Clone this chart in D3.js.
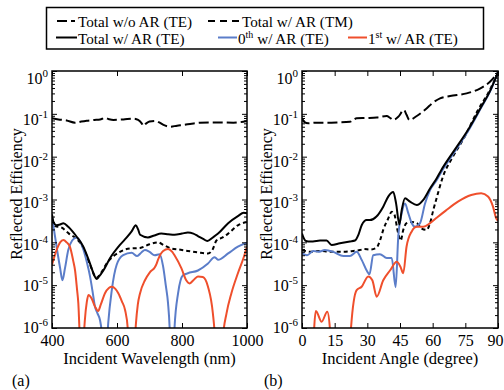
<!DOCTYPE html>
<html>
<head>
<meta charset="utf-8">
<script src="https://cdn.jsdelivr.net/npm/d3@7"></script>
<style>
  body { margin: 0; background: #fff; }
  svg { display: block; }
  svg text { font-family: 'Liberation Serif', 'DejaVu Serif', serif; }
</style>
</head>
<body>
<svg id="chart" width="504" height="390"></svg>
<script>
// ---- panel (a): efficiency vs incident wavelength (nm) ----
const aNoAR = [[400,0.079],[420,0.074],[445,0.07],[471,0.062],[490,0.066],[507,0.069],[530,0.072],[548,0.074],[563,0.08],[575,0.075],[589,0.072],[620,0.074],[650,0.077],[665,0.072],[676,0.06],[681,0.052],[690,0.06],[700,0.066],[717,0.068],[730,0.063],[743,0.055],[763,0.05],[785,0.053],[804,0.055],[830,0.059],[855,0.062],[906,0.063],[958,0.062],[1000,0.068]];
const aTotalTE = [[400,4.5e-4],[405,2.9e-4],[414,2.5e-4],[425,2.6e-4],[435,2.8e-4],[450,2.3e-4],[463,1.8e-4],[476,1.35e-4],[496,8e-5],[517,3.2e-5],[530,1.7e-5],[537,1.4e-5],[545,1.6e-5],[558,2.2e-5],[578,4.2e-5],[609,8.7e-5],[630,1.3e-4],[645,1.8e-4],[658,2.5e-4],[665,2e-4],[671,1.5e-4],[695,1.3e-4],[715,1.45e-4],[736,1.6e-4],[757,1.55e-4],[777,1.5e-4],[800,1.6e-4],[818,1.7e-4],[835,1.6e-4],[849,1.4e-4],[865,1.2e-4],[878,1.07e-4],[895,1.3e-4],[911,1.6e-4],[942,2.8e-4],[972,4.1e-4],[990,4.9e-4],[1000,4.8e-4]];
const aTotalTM = [[400,3.5e-4],[410,2.4e-4],[430,2.2e-4],[452,1.6e-4],[476,1.2e-4],[496,7.5e-5],[517,3e-5],[537,1.5e-5],[550,1.9e-5],[568,3.2e-5],[590,4.8e-5],[609,6e-5],[640,7.2e-5],[671,7.4e-5],[700,9e-5],[726,1e-4],[745,8.5e-5],[767,7.2e-5],[790,6.8e-5],[818,6.3e-5],[850,5.8e-5],[880,5.5e-5],[895,7e-5],[906,1.1e-4],[925,1.3e-4],[942,1.6e-4],[972,2.5e-4],[1000,3e-4]];
const aZeroTE = [[400,4e-4],[406,2e-4],[414,8e-5],[425,2.5e-5],[432,1.3e-5],[440,2.5e-5],[450,6.6e-5],[462,1.1e-4],[475,1.3e-4],[485,1.1e-4],[496,7e-5],[507,3.5e-5],[517,1.6e-5],[525,7e-6],[532,3.2e-6],[540,2.2e-6],[548,1.5e-6],[553,8e-7],[558,2e-7],[566,2e-7],[573,1.3e-6],[584,7.7e-6],[599,3e-5],[619,5e-5],[645,5.7e-5],[662,4.8e-5],[675,5.8e-5],[686,6.6e-5],[700,6e-5],[716,5e-5],[731,5.3e-5],[742,2.7e-5],[750,1e-5],[757,3.8e-6],[762,1e-6],[766,1e-7],[772,1e-7],[777,1e-6],[788,6.5e-6],[803,1.7e-5],[818,1.9e-5],[849,2.2e-5],[880,3.2e-5],[900,4.5e-5],[906,4.2e-5],[911,3.9e-5],[942,5.5e-5],[972,7.9e-5],[1000,9.8e-5]];
const aFirstTE = [[400,3e-5],[414,6.6e-5],[425,1e-4],[435,1.13e-4],[445,1e-4],[455,7.9e-5],[465,3.8e-5],[471,2.2e-5],[477,8e-6],[481,3.8e-6],[486,5e-7],[492,1e-7],[497,5e-7],[501,1.5e-6],[507,4e-6],[512,5.9e-6],[522,4.9e-6],[532,3.2e-6],[542,2.5e-6],[550,3.5e-6],[563,6.5e-6],[575,8.6e-6],[584,9.2e-6],[595,8.2e-6],[604,6.5e-6],[615,4.2e-6],[625,2.6e-6],[633,1e-6],[640,1e-7],[650,1e-7],[658,1.2e-6],[664,3.5e-6],[671,6.5e-6],[686,1.3e-5],[701,2e-5],[716,2.6e-5],[722,3.2e-5],[726,3.9e-5],[742,6.3e-5],[757,7e-5],[770,6e-5],[777,5e-5],[798,2.5e-5],[813,1.3e-5],[823,1.1e-5],[835,1.3e-5],[849,1.6e-5],[864,1.55e-5],[880,9.2e-6],[895,2.2e-6],[902,5e-7],[906,1e-7],[922,1e-7],[926,6e-7],[937,2.2e-6],[952,6.5e-6],[972,1.9e-5],[990,4.5e-5],[1000,8e-5]];
const aTicks = [400, 600, 800, 1000];

// ---- panel (b): efficiency vs incident angle (degree) ----
const bNoAR = [[0,0.08],[1,0.065],[2.9,0.06],[6,0.062],[9.8,0.062],[16,0.063],[22,0.065],[23.5,0.072],[25.1,0.079],[30,0.08],[34.3,0.082],[38.9,0.089],[40.5,0.08],[41.9,0.072],[44.2,0.085],[46.8,0.123],[48,0.095],[49.3,0.072],[52.7,0.089],[57.2,0.134],[60,0.18],[63.4,0.23],[68,0.26],[75.6,0.3],[81.7,0.39],[86.3,0.56],[90,0.92]];
const bTotalTE = [[0,1.6e-4],[1.5,1.1e-4],[2.9,1.05e-4],[5,1.05e-4],[8.3,1.1e-4],[11.3,1.1e-4],[13.6,8.7e-5],[17.4,9.5e-5],[22,1.05e-4],[24.3,1.1e-4],[25.9,1.5e-4],[27.4,2.5e-4],[29.7,3.3e-4],[31.2,3.3e-4],[34.2,4e-4],[37.3,6.8e-4],[39.6,1.17e-3],[41.9,1.5e-3],[43.2,8.1e-4],[44.7,2.6e-4],[45.8,5.7e-4],[47.3,1.07e-3],[49.6,8.9e-4],[52.7,7.4e-4],[55.7,9.8e-4],[58.8,1.8e-3],[61.8,3.1e-3],[64,4.9e-3],[70.1,0.0144],[76.2,0.042],[82.3,0.147],[86.2,0.33],[90,0.95]];
const bTotalTM = [[0,6.6e-5],[3.7,6e-5],[8.3,6.3e-5],[12.9,6e-5],[19,6e-5],[23.6,6.3e-5],[26.6,6.6e-5],[28.5,7e-5],[31.2,6.8e-5],[34.2,7.5e-5],[35.8,1.1e-4],[37.3,1.95e-4],[39.6,3.6e-4],[41.2,5.2e-4],[42.2,4.8e-4],[44.2,1.6e-4],[45.3,1.1e-4],[46.5,1.95e-4],[48,2.8e-4],[50.4,3e-4],[52.7,2.8e-4],[55,2.1e-4],[57.2,1.95e-4],[58.8,2.8e-4],[60.3,5.7e-4],[61.8,1.07e-3],[64.7,3.4e-3],[69.3,0.01],[74.7,0.029],[80.8,0.123],[85.4,0.3],[90,0.92]];
const bZeroTE = [[0,5.5e-5],[2.3,5e-5],[5.2,6.3e-5],[7.5,6e-5],[10.5,6.6e-5],[14.4,6e-5],[19,4.8e-5],[22,4.8e-5],[25.1,6e-5],[27.4,3.9e-5],[29.7,2.2e-5],[31,1.8e-5],[32.7,5e-5],[35.8,5.3e-5],[38.9,4.3e-5],[41.2,4.3e-5],[43,9e-6],[44.2,1.35e-4],[45.8,4.8e-4],[47.3,8.1e-4],[48.8,4.8e-4],[50.4,2.8e-4],[51.9,2.3e-4],[54.2,2.8e-4],[56.5,8.1e-4],[58.8,1.65e-3],[61.8,2.8e-3],[64,4.4e-3],[70.1,0.013],[76.2,0.039],[82.3,0.14],[86.2,0.32],[90,0.94]];
const bFirstTE = [[5,1e-7],[5.6,1e-6],[6.4,2.5e-6],[9,1.4e-6],[11.6,2.4e-6],[12.8,1e-6],[13.6,1e-7],[21.5,1e-7],[22.5,1e-6],[25.1,7.7e-6],[27.4,9.2e-6],[30.4,1.6e-5],[32.3,1.3e-5],[34.3,5.4e-6],[37.3,1.3e-5],[40.4,2.2e-5],[43.5,3.5e-5],[45.2,2.7e-5],[46.5,1.9e-5],[48,7.9e-5],[50.4,1.8e-4],[52.7,2.3e-4],[55.7,2.3e-4],[58.8,2.8e-4],[62,3.8e-4],[66,5.5e-4],[71.6,8.9e-4],[77.7,1.27e-3],[82.3,1.4e-3],[85.4,1.17e-3],[87.7,6.8e-4],[89.2,3.6e-4],[90,3.2e-4]];
const bTicks = [0, 15, 30, 45, 60, 75, 90];

const yDecades = [1, 1e-1, 1e-2, 1e-3, 1e-4, 1e-5, 1e-6];
const yExps = ['0', '-1', '-2', '-3', '-4', '-5', '-6'];

const BLUE = '#5b7dc9';
const RED = '#ef4f2c';
const SERIF = 'Liberation Serif, DejaVu Serif, serif';

const svg = d3.select('#chart').attr('font-family', SERIF);
const plotTop = 71, plotBottom = 328;

// minor log ticks 2..9 per decade
const yMinor = [];
for (let k = -6; k < 0; k++) for (let m = 2; m <= 9; m++) yMinor.push(m * Math.pow(10, k));

function drawPanel(p){
  const x = d3.scaleLinear().domain(p.domain).range([p.left, p.right]);
  const y = d3.scaleLog().domain([1e-6, 1]).range([plotBottom, plotTop]);
  const g = svg.append('g');

  g.append('clipPath').attr('id', p.id + '-clip')
    .append('rect').attr('x', p.left).attr('y', plotTop)
    .attr('width', p.right - p.left).attr('height', plotBottom - plotTop);

  const line = d3.line().x(d => x(d[0])).y(d => y(d[1])).curve(d3.curveMonotoneX);
  const plot = g.append('g').attr('clip-path', `url(#${p.id}-clip)`);
  p.series.forEach(s => {
    plot.append('path').datum(s.data)
      .attr('d', line)
      .attr('fill', 'none')
      .attr('stroke', s.color)
      .attr('stroke-width', 2)
      .attr('stroke-dasharray', s.dash || null)
      .attr('stroke-linejoin', 'round');
  });

  // x axes (ticks inward)
  const xb = g.append('g').attr('transform', `translate(0,${plotBottom})`)
    .call(d3.axisBottom(x).tickValues(p.ticks).tickSize(-5).tickPadding(7).tickFormat(d3.format('d')));
  xb.selectAll('text').attr('font-size', 16).attr('fill', '#000');
  // keep the right-most label inside the picture
  if (p.right > 490) xb.selectAll('.tick:last-of-type text').attr('dx', -3);
  g.append('g').attr('transform', `translate(0,${plotTop})`)
    .call(d3.axisTop(x).tickValues(p.ticks).tickSize(-5).tickFormat(''));

  // y axes: left with labels, right without
  const yl = g.append('g').attr('transform', `translate(${p.left},0)`)
    .call(d3.axisLeft(y).tickValues(yDecades).tickSize(-5).tickPadding(4).tickFormat(''));
  yl.selectAll('.tick text').each(function(d, i){
    const t = d3.select(this).attr('font-size', 16).attr('fill', '#000')
      .attr('dy', 12 - 1.3 * i);
    t.append('tspan').text('10');
    t.append('tspan').attr('font-size', 11).attr('dy', -7).text(yExps[i]);
  });
  g.append('g').attr('transform', `translate(${p.left},0)`)
    .call(d3.axisLeft(y).tickValues(yMinor).tickSize(-3).tickFormat(''));
  g.append('g').attr('transform', `translate(${p.right},0)`)
    .call(d3.axisRight(y).tickValues(yDecades).tickSize(-5).tickFormat(''));
  g.append('g').attr('transform', `translate(${p.right},0)`)
    .call(d3.axisRight(y).tickValues(yMinor).tickSize(-3).tickFormat(''));
  g.selectAll('.domain').remove();
  g.selectAll('g').attr('font-family', SERIF);

  g.append('rect').attr('x', p.left).attr('y', plotTop)
    .attr('width', p.right - p.left).attr('height', plotBottom - plotTop)
    .attr('fill', 'none').attr('stroke', '#000').attr('stroke-width', 1.5);

  g.append('text').attr('x', (p.left + p.right) / 2).attr('y', 364)
    .attr('text-anchor', 'middle').attr('font-size', 16.5).text(p.xTitle);
  g.append('text').attr('transform', `translate(${p.yTitleX},194) rotate(-90)`)
    .attr('text-anchor', 'middle').attr('font-size', 16).text('Reflected Efficiency');
  g.append('text').attr('x', p.tagX).attr('y', 386).attr('font-size', 16).text(p.tag);
}

drawPanel({
  id: 'pa', left: 52, right: 247, domain: [400, 1000], ticks: aTicks,
  xTitle: 'Incident Wavelength (nm)', yTitleX: 22, tag: '(a)', tagX: 12,
  series: [
    {data: aNoAR, color: '#000', dash: '10,4'},
    {data: aTotalTM, color: '#000', dash: '4,3'},
    {data: aZeroTE, color: BLUE},
    {data: aTotalTE, color: '#000'},
    {data: aFirstTE, color: RED}
  ]
});

drawPanel({
  id: 'pb', left: 302, right: 498, domain: [0, 90], ticks: bTicks,
  xTitle: 'Incident Angle (degree)', yTitleX: 272, tag: '(b)', tagX: 264,
  series: [
    {data: bNoAR, color: '#000', dash: '10,4'},
    {data: bTotalTM, color: '#000', dash: '4,3'},
    {data: bZeroTE, color: BLUE},
    {data: bTotalTE, color: '#000'},
    {data: bFirstTE, color: RED}
  ]
});

// ---- legend ----
const legend = svg.append('g');
legend.append('rect').attr('x', 46.5).attr('y', 7.5).attr('width', 437).attr('height', 41.5)
  .attr('fill', '#fff').attr('stroke', '#000').attr('stroke-width', 1.5);

const legendItems = [
  {x1: 57, x2: 75, y: 21, tx: 78, ty: 26.5, color: '#000', dash: '10,4', text: ['Total w/o AR (TE)']},
  {x1: 208, x2: 239, y: 21, tx: 242, ty: 26.5, color: '#000', dash: '7,5', text: ['Total w/ AR (TM)']},
  {x1: 56, x2: 77, y: 37.5, tx: 78, ty: 43.5, color: '#000', text: ['Total w/ AR (TE)']},
  {x1: 218, x2: 237, y: 37.5, tx: 238, ty: 43.5, color: BLUE, text: ['0', 'th', ' w/ AR (TE)']},
  {x1: 348, x2: 367, y: 37.5, tx: 368, ty: 43.5, color: RED, text: ['1', 'st', ' w/ AR (TE)']}
];
legendItems.forEach(it => {
  legend.append('line').attr('x1', it.x1).attr('x2', it.x2).attr('y1', it.y).attr('y2', it.y)
    .attr('stroke', it.color).attr('stroke-width', 2).attr('stroke-dasharray', it.dash || null);
  const t = legend.append('text').attr('x', it.tx).attr('y', it.ty).attr('font-size', 15.2);
  if (it.text.length === 1) {
    t.text(it.text[0]);
  } else {
    t.append('tspan').text(it.text[0]);
    t.append('tspan').attr('font-size', 10).attr('dy', -6).text(it.text[1]);
    t.append('tspan').attr('dy', 6).text(it.text[2]);
  }
});
</script>
</body>
</html>
